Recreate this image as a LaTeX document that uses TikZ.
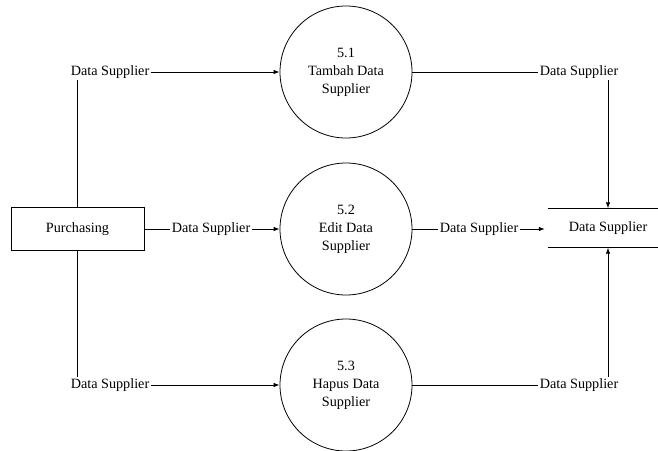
\documentclass[tikz,border=0pt]{standalone}
\usepackage{fontspec}
\setmainfont{Liberation Serif}
\usetikzlibrary{arrows.meta,calc}
\begin{document}
\begin{tikzpicture}[x=1pt,y=-1pt,
  every node/.style={font=\fontsize{14.2}{18}\selectfont},
  flow/.style={draw=black,line width=0.8pt},
  arr/.style={flow,-{Latex[length=6pt,width=4.5pt]}},
  process/.style={draw,line width=0.8pt,circle,minimum size=132pt,inner sep=0pt,align=center},
  entity/.style={draw,line width=0.8pt,minimum width=133pt,minimum height=43pt,inner sep=0pt},
  store/.style={minimum width=120pt,minimum height=39pt,inner sep=0pt},
  lbl/.style={inner sep=1.5pt}]
\useasboundingbox (0,0) rectangle (658,450);

% external entity and processes
\node[entity] (P) at (77.5,229) {Purchasing};
\node[process] (C1) at (346,72) {5.1\\Tambah Data\\Supplier};
\node[process] (C2) at (346,229) {5.2\\Edit Data\\Supplier};
\node[process] (C3) at (346,385) {5.3\\Hapus Data\\Supplier};

% data store
\node[store] (S) at (608,228) {Data Supplier};
\draw[flow] (S.north west) -- (S.north east);
\draw[flow] (S.south west) -- (S.south east);

% flow labels
\node[lbl] (L1) at (110,72) {Data Supplier};
\node[lbl] (L2) at (211,229) {Data Supplier};
\node[lbl] (L3) at (110,385) {Data Supplier};
\node[lbl] (R1) at (579,72) {Data Supplier};
\node[lbl] (R2) at (479,229) {Data Supplier};
\node[lbl] (R3) at (579,385) {Data Supplier};

% Purchasing to processes
\draw[flow] (P.north) -- (P.north |- L1.south);
\draw[arr] (L1.east) -- (C1.west);
\draw[flow] (P.east) -- (L2.west);
\draw[arr] (L2.east) -- (C2.west);
\draw[flow] (P.south) -- (P.south |- L3.north);
\draw[arr] (L3.east) -- (C3.west);

% processes to data store
\draw[flow] (C1.east) -- (R1.west);
\draw[arr] (R1.south -| S.north) -- (S.north);
\draw[flow] (C2.east) -- (R2.west);
\draw[arr] (R2.east) -- ($(R2.east -| S.west)+(-3pt,0)$);
\draw[flow] (C3.east) -- (R3.west);
\draw[arr] (R3.north -| S.south) -- (S.south);
\end{tikzpicture}
\end{document}
